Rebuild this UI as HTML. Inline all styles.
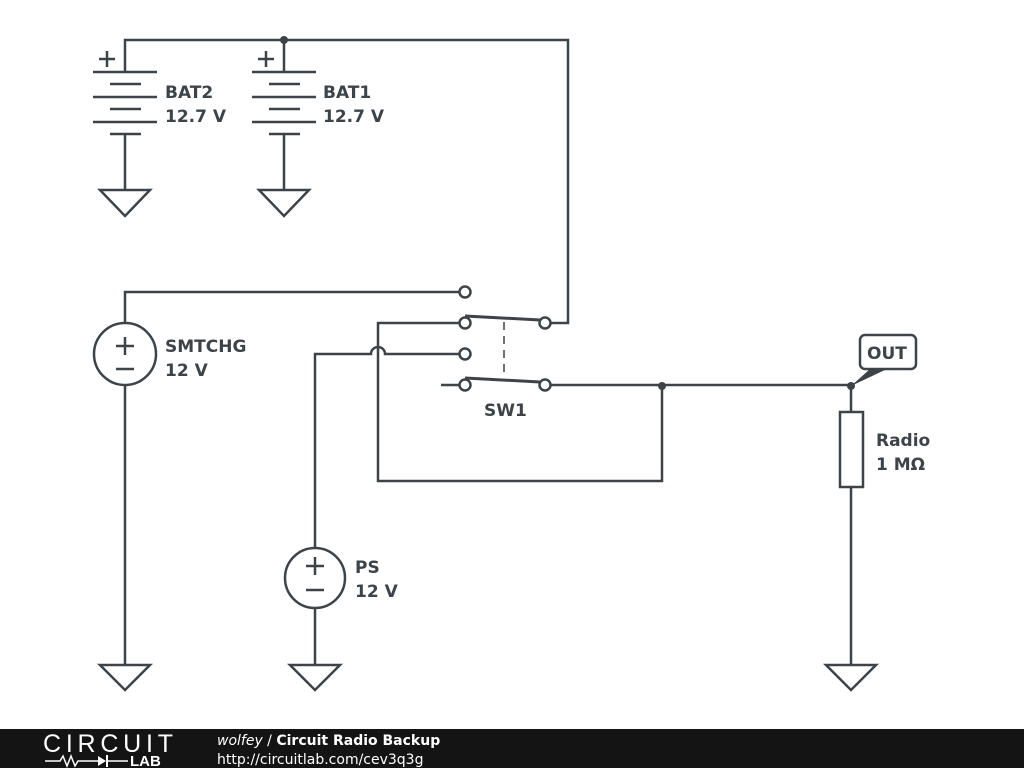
<!DOCTYPE html>
<html><head><style>
body{margin:0;width:1024px;height:768px;background:#fff;overflow:hidden;position:relative;font-family:"Liberation Sans",sans-serif}
svg{position:absolute;left:0;top:0}
.t{font-family:"DejaVu Sans",sans-serif;font-weight:bold;font-size:17px;fill:#3d4449}
</style></head><body>
<svg width="1024" height="768" viewBox="0 0 1024 768">
<g stroke="#3d4449" stroke-width="2.5" fill="none">
<polyline points="125,72 125,40 568,40 568,323 551,323"/>
<line x1="284" y1="40" x2="284" y2="72"/>
<g id="b">
<line x1="93" y1="72" x2="157" y2="72"/><line x1="110" y1="84" x2="141" y2="84"/>
<line x1="93" y1="97" x2="157" y2="97"/><line x1="110" y1="109" x2="141" y2="109"/>
<line x1="93" y1="122" x2="157" y2="122"/><line x1="110" y1="134" x2="141" y2="134"/>
<line x1="125" y1="134" x2="125" y2="190"/>
<polygon points="100,190 150,190 125,216"/>
<line x1="99" y1="59" x2="115" y2="59"/><line x1="107" y1="51" x2="107" y2="67"/>
</g>
<use href="#b" transform="translate(159,0)"/>
<polyline points="459,292 125,292 125,323"/>
<circle cx="125" cy="354" r="31"/>
<line x1="125" y1="385" x2="125" y2="665"/>
<polygon points="100,665 150,665 125,690"/>
<line x1="116" y1="346" x2="134" y2="346"/><line x1="125" y1="337" x2="125" y2="355"/>
<line x1="116" y1="369" x2="134" y2="369"/>
<path d="M315,548 L315,354 L371,354 A7,7 0 0 1 385,354 L459,354"/>
<circle cx="315" cy="578" r="30"/>
<line x1="315" y1="608" x2="315" y2="665"/>
<polygon points="290,665 340,665 315,690"/>
<line x1="306" y1="566" x2="324" y2="566"/><line x1="315" y1="557" x2="315" y2="575"/>
<line x1="306" y1="590" x2="324" y2="590"/>
<polyline points="459,323 378,323 378,481 662,481 662,386"/>
<circle cx="465" cy="292" r="5.5"/><circle cx="465" cy="323" r="5.5"/>
<circle cx="465" cy="354" r="5.5"/><circle cx="465" cy="385" r="5.5"/>
<circle cx="545" cy="323" r="5.5"/><circle cx="545" cy="385" r="5.5"/>
<line x1="465" y1="316" x2="540" y2="320" stroke-width="3"/>
<line x1="465" y1="378" x2="540" y2="382" stroke-width="3"/>
<line x1="504" y1="322" x2="504" y2="376" stroke-dasharray="8,6" stroke-width="1.5"/>
<line x1="441" y1="385" x2="459" y2="385"/>
<line x1="551" y1="385" x2="851" y2="385"/>
<line x1="851" y1="385" x2="851" y2="412"/>
<rect x="840" y="412" width="23" height="75"/>
<line x1="851" y1="487" x2="851" y2="665"/>
<polygon points="826,665 876,665 851,690"/>
<rect x="860" y="335" width="56" height="34" rx="5"/>
</g>
<polygon points="851,386 870,369 887,369" fill="#3d4449"/>
<circle cx="284" cy="40" r="4" fill="#3d4449"/>
<circle cx="662" cy="386" r="4" fill="#3d4449"/>
<circle cx="851" cy="386" r="4" fill="#3d4449"/>
<text class="t" x="165" y="98">BAT2</text><text class="t" x="165" y="122">12.7 V</text>
<text class="t" x="323" y="98">BAT1</text><text class="t" x="323" y="122">12.7 V</text>
<text class="t" x="165" y="352">SMTCHG</text><text class="t" x="165" y="376">12 V</text>
<text class="t" x="355" y="573">PS</text><text class="t" x="355" y="597">12 V</text>
<text class="t" x="484" y="416">SW1</text>
<text class="t" x="867" y="359">OUT</text>
<text class="t" x="876" y="446">Radio</text><text class="t" x="876" y="470">1 MΩ</text>
<rect x="0" y="729" width="1024" height="39" fill="#141414"/>
<text x="43" y="752" fill="#fff" font-family="Liberation Sans" font-size="25" textLength="130">CIRCUIT</text>
<text x="130" y="766" fill="#fff" font-family="Liberation Sans" font-weight="bold" font-size="15">LAB</text>
<polyline points="45,761 60,761 63,756 67,766 71,756 75,766 78,761 98,761" stroke="#fff" stroke-width="1.5" fill="none"/>
<polygon points="98,756 98,766 106,761" fill="#fff"/><line x1="107" y1="755" x2="107" y2="767" stroke="#fff" stroke-width="2"/>
<line x1="107" y1="761" x2="128" y2="761" stroke="#fff" stroke-width="1.5"/>
<text x="217" y="745" fill="#fff" font-family="DejaVu Sans" font-size="14"><tspan font-style="italic">wolfey</tspan> / <tspan font-weight="bold">Circuit Radio Backup</tspan></text>
<text x="217" y="764" fill="#fff" font-family="DejaVu Sans" font-size="14">http://circuitlab.com/cev3q3g</text>
</svg>
</body></html>
